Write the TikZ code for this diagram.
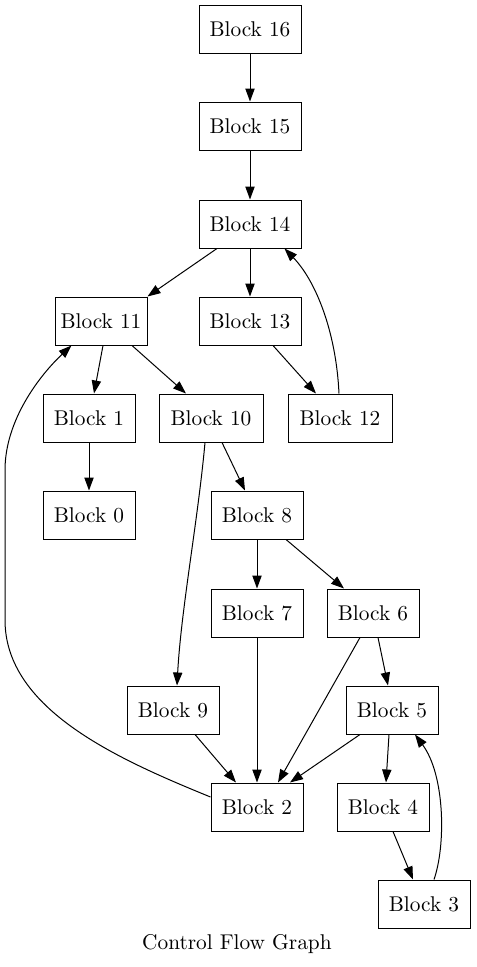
\documentclass[tikz,border=0pt]{standalone}
\usetikzlibrary{arrows.meta,calc}
\font\blkfont=cmr10 at 16pt
\begin{document}
\begin{tikzpicture}[x=0.75pt,y=-0.75pt,
  blk/.style={draw=black,line width=0.75pt,minimum height=36pt,inner sep=0pt,font=\blkfont},
  wide/.style={blk,minimum width=76.5pt},
  wider/.style={blk,minimum width=78pt},
  narrow/.style={blk,minimum width=69pt},
  edge/.style={draw=black,line width=0.75pt,-{Triangle[length=9.75pt,width=7pt]}}]
\useasboundingbox (0,0) rectangle (476,967);
\node[wide]   (n16) at (250,29)  {Block 16};
\node[wide]   (n15) at (250,126) {Block 15};
\node[wide]   (n14) at (250,224) {Block 14};
\node[narrow] (n11) at (101,321) {Block 11};
\node[wide]   (n13) at (250,321) {Block 13};
\node[narrow] (n1)  at (89,418)  {Block 1};
\node[wider]  (n10) at (211,418) {Block 10};
\node[wider]  (n12) at (340,418) {Block 12};
\node[narrow] (n0)  at (89,515)  {Block 0};
\node[narrow] (n8)  at (257,515) {Block 8};
\node[narrow] (n7)  at (257,613) {Block 7};
\node[narrow] (n6)  at (373,613) {Block 6};
\node[narrow] (n9)  at (173,710) {Block 9};
\node[narrow] (n5)  at (392,710) {Block 5};
\node[narrow] (n2)  at (257,807) {Block 2};
\node[narrow] (n4)  at (383,807) {Block 4};
\node[narrow] (n3)  at (424,904) {Block 3};
\node[font=\blkfont] (title) at (237,944) {Control Flow Graph};

\draw[edge] (n16.south) -- (n15.north);
\draw[edge] (n15.south) -- (n14.north);
\draw[edge] ($(n14.south)+(-33,0)$) -- (n11.north east);
\draw[edge] (n14.south) -- (n13.north);
\draw[edge] ($(n11.south)+(2,0)$) -- ($(n1.north)+(5,0)$);
\draw[edge] ($(n11.south)+(31,0)$) -- ($(n10.north)+(-25,0)$);
\draw[edge] (n1.south) -- (n0.north);
\draw[edge] ($(n10.south)+(11,0)$) -- ($(n8.north)+(-12,0)$);
\draw[edge] ($(n10.south)+(-6,0)$) .. controls (198,520) and (181,610) .. ($(n9.north)+(4,0)$);
\draw[edge] ($(n13.south)+(23,0)$) -- ($(n12.north)+(-24,0)$);
\draw[edge] ($(n12.north)+(-1,0)$) .. controls (336,330) and (315,280) .. ($(n14.south east)+(-17,0)$);
\draw[edge] (n8.south) -- (n7.north);
\draw[edge] ($(n8.south)+(29,0)$) -- ($(n6.north)+(-29,0)$);
\draw[edge] (n7.south) -- (n2.north);
\draw[edge] ($(n6.south)+(-13,0)$) -- ($(n2.north)+(21,0)$);
\draw[edge] ($(n6.south)+(5,0)$) -- ($(n5.north)+(-4,0)$);
\draw[edge] ($(n9.south)+(22,0)$) -- ($(n2.north)+(-21,0)$);
\draw[edge] ($(n5.south)+(-32,0)$) -- ($(n2.north)+(33,0)$);
\draw[edge] ($(n5.south)+(-3,0)$) -- ($(n4.north)+(3,0)$);
\draw[edge] ($(n4.south)+(10,0)$) -- ($(n3.north)+(-11,0)$);
\draw[edge] ($(n3.north)+(10,0)$) .. controls (446,845) and (445,775) .. ($(n5.south)+(23,0)$);
\draw[edge] ($(n2.west)+(0,-10)$) .. controls (120,760) and (5,710) .. (5,620) -- (5,470) .. controls (5,420) and (40,375) .. ($(n11.south west)+(17,0)$);
\end{tikzpicture}
\end{document}
